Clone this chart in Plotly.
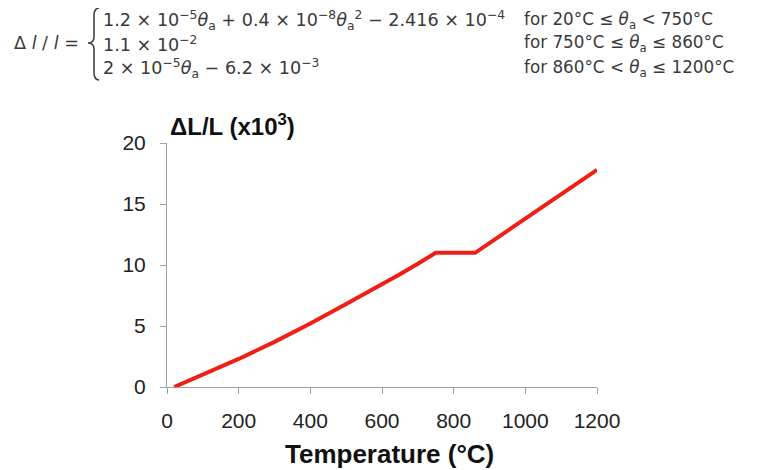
import plotly.graph_objects as go

# Data (thermal elongation, x10^3)
temperature = [20, 100, 200, 300, 400, 500, 600, 650, 700, 750, 860, 1000, 1200]
elongation = [0.0, 1.0, 2.3, 3.7, 5.2, 6.8, 8.4, 9.25, 10.1, 11.0, 11.0, 13.8, 17.8]
x_ticks = [0, 200, 400, 600, 800, 1000, 1200]
y_ticks = [0, 5, 10, 15, 20]

# page body has an 8px margin, so the figure is a bit smaller than the window
W, H = 754, 462
L, R, T, B = 159, 589, 135, 379  # plot area in figure pixels


def px(x):
    return (x - L) / (R - L)


def py(y):
    return (B - y) / (B - T)


fig = go.Figure()
fig.add_trace(go.Scatter(
    x=temperature, y=elongation, mode="lines",
    line=dict(color="#f01e14", width=4), showlegend=False, cliponaxis=False,
))

axis_common = dict(
    showline=True, linecolor="#a0a0a0", linewidth=1,
    ticks="outside", ticklen=6, tickcolor="#a0a0a0", tickwidth=1,
    showgrid=False, zeroline=False,
    tickfont=dict(family="Liberation Sans, Arial", size=21, color="#222"),
)
fig.update_xaxes(range=[0, 1200], tickvals=x_ticks, ticklabelstandoff=9, **axis_common)
fig.update_yaxes(range=[0, 20], tickvals=y_ticks, ticklabelstandoff=10, **axis_common)

ff = "DejaVu Sans"
fc = "#3a3a3a"
ann = []


def add(text, x, y, size=17.6, family=ff, color=fc, xanchor="left", bold=False):
    font = dict(family=family, size=size, color=color)
    if bold:
        font["weight"] = "bold"
    ann.append(dict(text=text, x=px(x), y=py(y), xref="paper", yref="paper",
                    xanchor=xanchor, yanchor="middle", showarrow=False,
                    font=font))


th = "<i>θ</i><sub>a</sub>"
add("Δ <i>l</i> / <i>l</i> =", 4, 35)
add("1.2 × 10<sup>−5</sup>" + th + " + 0.4 × 10<sup>−8</sup>" + th + "<sup>2</sup> − 2.416 × 10<sup>−4</sup>", 93, 12)
add("1.1 × 10<sup>−2</sup>", 93, 36)
add("2 × 10<sup>−5</sup>" + th + " − 6.2 × 10<sup>−3</sup>", 93, 60)
add("for 20°C ≤ " + th + " &lt; 750°C", 514, 12, size=16.8)
add("for 750°C ≤ " + th + " ≤ 860°C", 514, 36, size=16.8)
add("for 860°C &lt; " + th + " ≤ 1200°C", 514, 60, size=16.8)

add("ΔL/L (x10<sup>3</sup>)", 160, 117, size=24, family="Liberation Sans, Arial",
    color="#111", bold=True)
add("Temperature (°C)", 381, 446, size=26, family="Liberation Sans, Arial",
    color="#111", xanchor="center", bold=True)

# curly brace
x0, xm, xt = 91, 86, 80
y0, ymid, y1 = 0, 35, 72
path = (f"M {px(x0)},{py(y0)} Q {px(xm)},{py(y0)} {px(xm)},{py(y0+8)} "
        f"L {px(xm)},{py(ymid-6)} Q {px(xm)},{py(ymid)} {px(xt)},{py(ymid)} "
        f"Q {px(xm)},{py(ymid)} {px(xm)},{py(ymid+6)} "
        f"L {px(xm)},{py(y1-8)} Q {px(xm)},{py(y1)} {px(x0)},{py(y1)}")
fig.add_shape(type="path", path=path, xref="paper", yref="paper",
              line=dict(color=fc, width=1.5))

fig.update_layout(
    width=W, height=H, annotations=ann,
    margin=dict(l=L, r=W - R, t=T, b=H - B),
    paper_bgcolor="white", plot_bgcolor="white",
)
fig.write_html("out.html")
